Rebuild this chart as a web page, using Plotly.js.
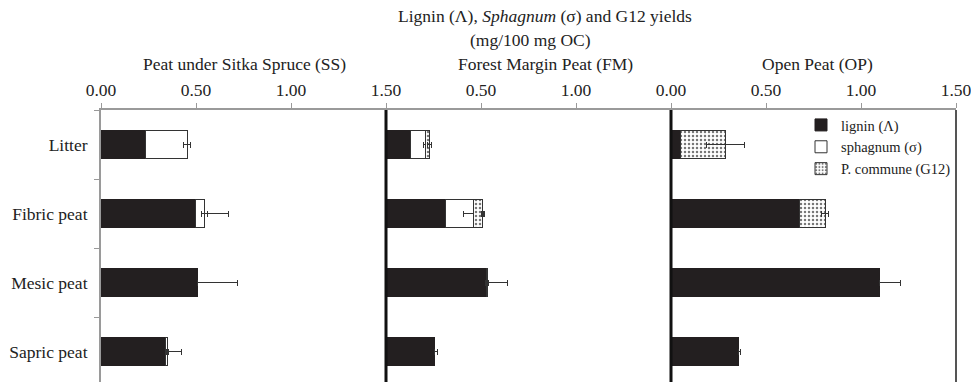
<!DOCTYPE html>
<html>
<head>
<meta charset="utf-8">
<script src="https://cdn.plot.ly/plotly-3.0.1.min.js"></script>
<style>html,body{margin:0;padding:0;background:#fff;}#chart{width:971px;height:382px;}</style>
</head>
<body>
<div id="chart"></div>
<script>
// Categories (soil horizons)
const categories = ["Litter", "Fibric peat", "Mesic peat", "Sapric peat"];

// Peat under Sitka Spruce (SS)
const ssLignin = [0.232, 0.495, 0.507, 0.342];
const ssLigninErr = [0.028, 0.177, 0.21, 0.082];
const ssSphagnum = [0.222, 0.049, null, 0.008];
const ssSphagnumErr = [0.018, 0.017, null, 0.006];
const ssG12 = [null, null, null, null];
const ssG12Err = [null, null, null, null];

// Forest Margin Peat (FM)
const fmLignin = [0.128, 0.312, 0.527, 0.254];
const fmLigninErr = [0.007, 0.018, 0.114, 0.018];
const fmSphagnum = [0.080, 0.147, 0.006, null];
const fmSphagnumErr = [0.013, 0.053, 0.008, null];
const fmG12 = [0.020, 0.050, null, null];
const fmG12Err = [0.012, 0.008, null, null];

// Open Peat (OP)
const opLignin = [0.051, 0.674, 1.095, 0.354];
const opLigninErr = [0.005, 0.035, 0.112, 0.014];
const opSphagnum = [null, null, null, null];
const opSphagnumErr = [null, null, null, null];
const opG12 = [0.237, 0.137, null, null];
const opG12Err = [0.100, 0.018, null, null];

// Axis ticks
const tickVals = [0, 0.5, 1.0, 1.5];
const tickText1 = ["0.00", "0.50", "1.00", "1.50"];
const tickText2 = ["", "0.50", "1.00", ""];
const tickText3 = ["0.00", "0.50", "1.00", "1.50"];

const seriesNames = ["lignin (\u039B)", "sphagnum (\u03C3)", "P. commune (G12)"];

const FONT = "'Liberation Serif'";
const DARK = "#231f20";
const ERRC = "#333333";

function errObj(arr, plusOnly) {
  const e = {type: "data", array: arr, visible: true, color: ERRC, thickness: 1, width: 3};
  if (plusOnly) {
    e.symmetric = false;
    e.arrayminus = arr.map(() => 0);
  }
  return e;
}

const styles = [
  {color: DARK, line: {color: DARK, width: 1}},
  {color: "#ffffff", line: {color: "#333333", width: 1}},
  {color: "#ffffff", line: {color: "#333333", width: 1},
   pattern: {shape: ".", fgcolor: "#777777", bgcolor: "#ffffff", size: 4, solidity: 0.3}}
];

const panels = [
  {xa: "x", vals: [ssLignin, ssSphagnum, ssG12], errs: [ssLigninErr, ssSphagnumErr, ssG12Err], legend: true},
  {xa: "x2", vals: [fmLignin, fmSphagnum, fmG12], errs: [fmLigninErr, fmSphagnumErr, fmG12Err], legend: false},
  {xa: "x3", vals: [opLignin, opSphagnum, opG12], errs: [opLigninErr, opSphagnumErr, opG12Err], legend: false}
];

const traces = [];
panels.forEach(p => {
  for (let s = 0; s < 3; s++) {
    traces.push({
      type: "bar",
      orientation: "h",
      y: categories,
      x: p.vals[s],
      xaxis: p.xa,
      yaxis: "y",
      name: seriesNames[s],
      legendgroup: "s" + s,
      showlegend: p.legend,
      marker: styles[s],
      error_x: errObj(p.errs[s], s === 0),
      hoverinfo: "x+name"
    });
  }
});

function xaxis(domain, ticktext) {
  return {
    domain: domain,
    anchor: "y",
    side: "top",
    range: [0, 1.5],
    tickvals: tickVals,
    ticktext: ticktext,
    ticks: "outside",
    ticklen: 5,
    tickwidth: 1,
    tickcolor: "#999999",
    showline: true,
    linecolor: "#9a9a9a",
    linewidth: 2,
    showgrid: false,
    zeroline: false,
    ticklabeloverflow: "allow",
    tickfont: {family: FONT, size: 17.5, color: "#222"},
    fixedrange: true
  };
}

const H = 382, T = 110, L = 101, W = 971 - 101 - 15;
function py(pxY) { return (H - pxY) / (H - T); }
function px(pxX) { return (pxX - L) / W; }

const annFont = {family: FONT, size: 17.5, color: "#222"};
const layout = {
  width: 971,
  height: 382,
  margin: {l: L, r: 15, t: T, b: 0, pad: 0},
  paper_bgcolor: "#ffffff",
  plot_bgcolor: "#ffffff",
  barmode: "stack",
  bargap: 0.59,
  showlegend: true,
  font: {family: FONT},
  legend: {
    x: px(801), y: py(109), xanchor: "left", yanchor: "top",
    font: {family: FONT, size: 14.5, color: "#222"},
    bgcolor: "rgba(255,255,255,0)",
    borderwidth: 0,
    itemwidth: 30,
    traceorder: "normal"
  },
  xaxis: xaxis([0, 1/3], tickText1),
  xaxis2: xaxis([1/3, 2/3], tickText2),
  xaxis3: xaxis([2/3, 1], tickText3),
  yaxis: {
    type: "category",
    categoryorder: "array",
    categoryarray: categories,
    range: [3.442, -0.5],
    tickson: "boundaries",
    ticks: "outside",
    ticklen: 5,
    tickcolor: "#999999",
    showline: true,
    linecolor: "#9a9a9a",
    linewidth: 2,
    showgrid: false,
    zeroline: false,
    ticklabelstandoff: 8,
    tickfont: {family: FONT, size: 17.5, color: "#222"},
    fixedrange: true
  },
  shapes: [
    {type: "line", xref: "paper", yref: "paper", x0: 1/3, x1: 1/3, y0: 0, y1: 1, line: {color: "#111", width: 3}},
    {type: "line", xref: "paper", yref: "paper", x0: 2/3, x1: 2/3, y0: 0, y1: 1, line: {color: "#111", width: 3}},
    {type: "line", xref: "paper", yref: "paper", x0: 1, x1: 1, y0: 0, y1: 1, line: {color: "#555", width: 2}}
  ],
  annotations: [
    {text: "Lignin (\u039B), <i>Sphagnum</i> (\u03C3) and G12 yields", xref: "paper", yref: "paper", x: px(545), y: py(16), xanchor: "center", yanchor: "middle", showarrow: false, font: annFont},
    {text: "(mg/100 mg OC)", xref: "paper", yref: "paper", x: px(530), y: py(40), xanchor: "center", yanchor: "middle", showarrow: false, font: annFont},
    {text: "Peat under Sitka Spruce (SS)", xref: "paper", yref: "paper", x: px(244), y: py(64), xanchor: "center", yanchor: "middle", showarrow: false, font: annFont},
    {text: "Forest Margin Peat (FM)", xref: "paper", yref: "paper", x: px(545), y: py(64), xanchor: "center", yanchor: "middle", showarrow: false, font: annFont},
    {text: "Open Peat (OP)", xref: "paper", yref: "paper", x: px(817), y: py(64), xanchor: "center", yanchor: "middle", showarrow: false, font: annFont}
  ]
};

Plotly.newPlot("chart", traces, layout, {displayModeBar: false, staticPlot: true});
</script>
</body>
</html>
